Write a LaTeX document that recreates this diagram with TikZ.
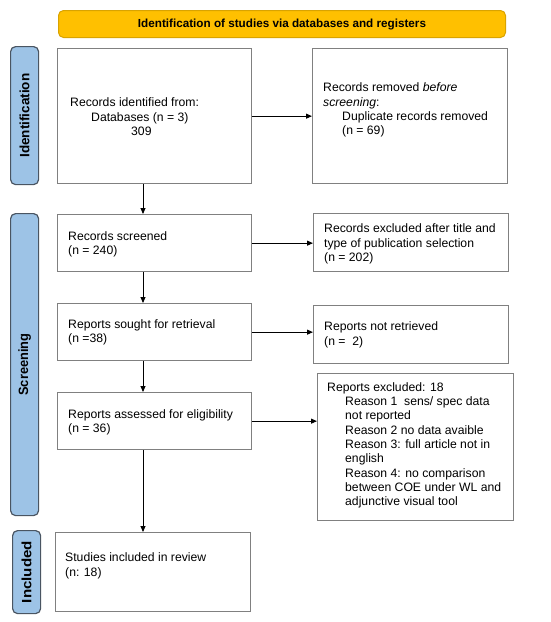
\documentclass[tikz,border=0pt]{standalone}
\usepackage{fontspec}
\setmainfont{Liberation Sans}
\usepackage{graphicx}
\usetikzlibrary{arrows.meta}
\definecolor{bannerfill}{HTML}{FFC000}
\definecolor{bannerdraw}{HTML}{D9A300}
\definecolor{sidefill}{HTML}{9DC3E6}
\definecolor{sidedraw}{HTML}{4A5562}
\definecolor{boxdraw}{HTML}{808080}
\begin{document}
\begin{tikzpicture}[x=1pt,y=-1pt,
  box/.style={draw=boxdraw, line width=1.3pt, fill=white, inner sep=0pt, anchor=north west},
  txt/.style={anchor=north west, inner sep=0pt, align=left, font=\fontsize{12.2}{14.3}\selectfont},
  side/.style={draw=sidedraw, fill=sidefill, line width=1.2pt, rounded corners=5pt, inner sep=0pt, anchor=north west},
  sidetxt/.style={rotate=90, font=\fontsize{13.5}{15}\selectfont\bfseries, inner sep=0pt},
  banner/.style={draw=bannerdraw, fill=bannerfill, line width=1pt, rounded corners=5pt, inner sep=0pt, anchor=north west, font=\fontsize{11.7}{14}\selectfont\bfseries},
  arr/.style={-{Triangle[length=6pt,width=5pt]}, line width=0.9pt, black}]
\useasboundingbox (0,0) rectangle (550,622);
% banner
\node[banner, minimum width=447, minimum height=27] (ban) at (58,10) {Identification of studies via databases and registers};
% side labels
\node[side, minimum width=28, minimum height=138] (sid) at (10,46) {};
\node[sidetxt] (sidt) at (sid.center) {Identification};
\node[side, minimum width=28, minimum height=302] (scr) at (10,213) {};
\node[sidetxt] (scrt) at (scr.center) {\scalebox{0.95}[1]{Screening}};
\node[side, minimum width=28, minimum height=83] (inc) at (12,530) {};
\node[sidetxt] (inct) at (inc.center) {\scalebox{1.12}[1]{Included}};
% boxes
\node[box, minimum width=194, minimum height=135] (b1) at (57,48) {};
\node[box, minimum width=195, minimum height=135] (b2) at (312,48) {};
\node[box, minimum width=194, minimum height=57] (b3) at (57,214) {};
\node[box, minimum width=195, minimum height=58] (b4) at (313,213) {};
\node[box, minimum width=194, minimum height=57] (b5) at (57,303) {};
\node[box, minimum width=195, minimum height=58] (b6) at (313,305) {};
\node[box, minimum width=194, minimum height=57] (b7) at (57,392) {};
\node[box, minimum width=196, minimum height=147] (b8) at (317,373) {};
\node[box, minimum width=195, minimum height=79] (b9) at (55,532) {};
% texts (top of first line = baseline - 8.8)
\node[txt] (t1) at (70,97.7) {Records identified from:\\\hspace*{21pt}Databases (n = 3)\\\hspace*{61pt}309};
\node[txt] (t2) at (323,82.7) {Records removed \textit{before}\\\textit{screening}:\\\hspace*{19pt}Duplicate records removed\\\hspace*{19pt}(n = 69)};
\node[txt] (t3) at (68,231.2) {Records screened\\(n = 240)};
\node[txt] (t4) at (324,223.9) {Records excluded after title and\\type of publication selection\\(n = 202)};
\node[txt] (t5) at (68,319.2) {Reports sought for retrieval\\(n =38)};
\node[txt] (t6) at (324,321.9) {Reports not retrieved\\(n = \ 2)};
\node[txt] (t7) at (68,409.2) {Reports assessed for eligibility\\(n = 36)};
\node[txt] (t8) at (327,382.2) {Reports excluded: 18\\
\hspace*{18pt}Reason 1 \ sens/ spec data\\
\hspace*{18pt}not reported\\
\hspace*{18pt}Reason 2 no data avaible\\
\hspace*{18pt}Reason 3: full article not in\\
\hspace*{18pt}english\\
\hspace*{18pt}Reason 4: no comparison\\
\hspace*{18pt}between COE under WL and\\
\hspace*{18pt}adjunctive visual tool};
\node[txt] (t9) at (65,552.9) {Studies included in review\\(n: 18)};
% connectors
\coordinate (ax) at (143,0);
\draw[arr] (b1.south -| ax) -- (b3.north -| ax);
\draw[arr] (b3.south -| ax) -- (b5.north -| ax);
\draw[arr] (b5.south -| ax) -- (b7.north -| ax);
\draw[arr] (b7.south -| ax) -- (b9.north -| ax);
\draw[arr] (b1.east) -- (b1.east -| b2.west);
\draw[arr] (b3.east) -- (b3.east -| b4.west);
\draw[arr] (b5.east) -- (b5.east -| b6.west);
\draw[arr] (b7.east) -- (b7.east -| b8.west);
\end{tikzpicture}
\end{document}
